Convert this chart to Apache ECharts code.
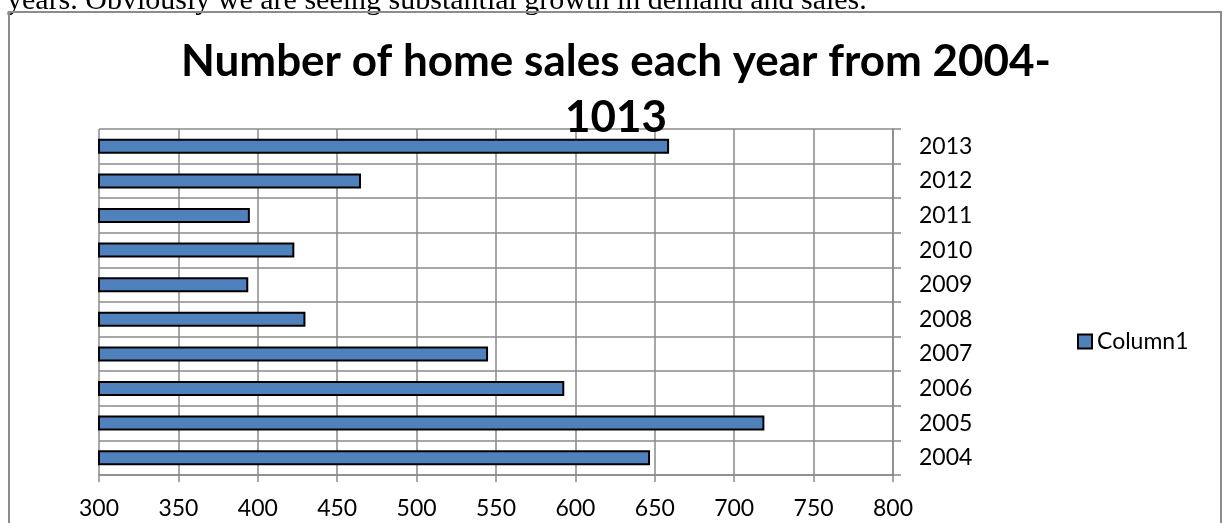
<!DOCTYPE html>
<html>
<head>
<meta charset="utf-8">
<title>Number of home sales</title>
<script src="https://cdn.jsdelivr.net/npm/echarts@6/dist/echarts.min.js"></script>
<style>
  html, body { margin: 0; padding: 0; background: #fff; }
  #container { width: 1227px; height: 523px; }
</style>
</head>
<body>
<div id="container"></div>
<script>
// data
var years = ['2004', '2005', '2006', '2007', '2008', '2009', '2010', '2011', '2012', '2013'];
var sales = [647, 719, 593, 545, 430, 394, 423, 395, 465, 659];
var valueTicks = [300, 350, 400, 450, 500, 550, 600, 650, 700, 750, 800];
var seriesName = 'Column1';
var chartTitle = 'Number of home sales each year from 2004-\n1013';
var textAbove = 'years. Obviously we are seeing substantial growth in demand and sales.';

var dom = document.getElementById('container');
var myChart = echarts.init(dom);
var gridColor = '#8a8a8a';
var labelFont = 'Lato';

var option = {
    animation: false,
    backgroundColor: '#fff',
    title: {
        text: chartTitle,
        left: 611,
        top: 29,
        textAlign: 'center',
        textStyle: {
            fontFamily: labelFont,
            fontWeight: 'bold',
            fontSize: 44,
            lineHeight: 56,
            color: '#000'
        }
    },
    legend: {
        data: [seriesName],
        left: 1077,
        top: 330,
        padding: 0,
        icon: 'rect',
        itemWidth: 14,
        itemHeight: 14,
        textStyle: { fontFamily: labelFont, fontSize: 23, color: '#000' }
    },
    grid: { left: 99, top: 129, width: 794, height: 346 },
    xAxis: {
        type: 'value',
        min: valueTicks[0],
        max: valueTicks[valueTicks.length - 1],
        interval: valueTicks[1] - valueTicks[0],
        axisLine: { show: true, lineStyle: { color: gridColor, width: 1.5 } },
        axisTick: { show: true, length: 7, lineStyle: { color: gridColor, width: 1.5 } },
        axisLabel: { color: '#000', fontFamily: labelFont, fontSize: 23, margin: 22 },
        splitLine: { show: true, lineStyle: { color: gridColor, width: 1.5 } }
    },
    yAxis: {
        type: 'category',
        data: years,
        position: 'right',
        axisLine: { show: true, lineStyle: { color: gridColor, width: 1.5 } },
        axisTick: { show: true, length: 8, lineStyle: { color: gridColor, width: 1.5 } },
        axisLabel: { color: '#000', fontFamily: labelFont, fontSize: 23, margin: 26 },
        splitLine: { show: true, lineStyle: { color: gridColor, width: 1.5 } }
    },
    series: [{
        name: seriesName,
        type: 'bar',
        data: sales,
        barWidth: 15,
        itemStyle: { color: '#4f81bd', borderColor: '#000', borderWidth: 2 }
    }],
    graphic: [
        {
            type: 'text',
            left: 7,
            top: -14,
            style: { text: textAbove, font: '30px "Liberation Serif"', fill: '#000' }
        },
        {
            type: 'rect',
            shape: { x: 9, y: 12, width: 1212, height: 600 },
            style: { fill: 'none', stroke: '#8c8c8c', lineWidth: 2 },
            silent: true
        }
    ]
};
myChart.setOption(option);
</script>
</body>
</html>
